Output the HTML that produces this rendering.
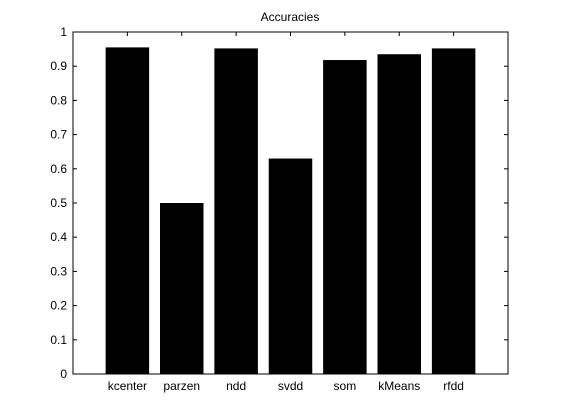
<!DOCTYPE html>
<html><head><meta charset="utf-8"><style>body{margin:0;background:#fff}svg{display:block;font-family:"Liberation Sans",Arial,sans-serif}</style></head>
<body>
<svg id="chart" width="561" height="420" xmlns="http://www.w3.org/2000/svg"></svg>
<script>
const categories=["kcenter","parzen","ndd","svdd","som","kMeans","rfdd"];
const accuracies=[0.955,0.5,0.952,0.63,0.918,0.935,0.952];
const yTicks=[0,0.1,0.2,0.3,0.4,0.5,0.6,0.7,0.8,0.9,1];
const L=73,R=508,T=32,B=374;
const x=v=>L+(R-L)*v/(categories.length+1);
const y=v=>B-(B-T)*v;
const svg=document.getElementById('chart');
const NS="http://www.w3.org/2000/svg";
function mk(t,a,p){const e=document.createElementNS(NS,t);for(const k in a)e.setAttribute(k,a[k]);(p||svg).appendChild(e);return e;}
const title=mk('text',{x:290,y:21,'text-anchor':'middle','font-size':12});
title.textContent="Accuracies";


const bw=(R-L)/(categories.length+1)*0.8;
categories.forEach((c,i)=>{
  const b=mk('rect',{x:x(i+1)-bw/2,y:y(accuracies[i]),width:bw,height:B-y(accuracies[i]),fill:'#000'});
  
  
  const t=mk('text',{x:x(i+1),y:B+16,'text-anchor':'middle','font-size':12});
  t.textContent=c;
  
  
  mk('line',{x1:x(i+1),x2:x(i+1),y1:T,y2:T+4,stroke:'#000'});
});
yTicks.forEach(v=>{
  mk('line',{x1:L,x2:L+4,y1:y(v),y2:y(v),stroke:'#000'});
  mk('line',{x1:R,x2:R-4,y1:y(v),y2:y(v),stroke:'#000'});
  const t=mk('text',{x:L-6,y:y(v)+4,'text-anchor':'end','font-size':12});
  t.textContent=String(v);
  
  
});
const ax=mk('rect',{x:L,y:T,width:R-L,height:B-T,fill:'none',stroke:'#000'});


</script>
</body></html>
